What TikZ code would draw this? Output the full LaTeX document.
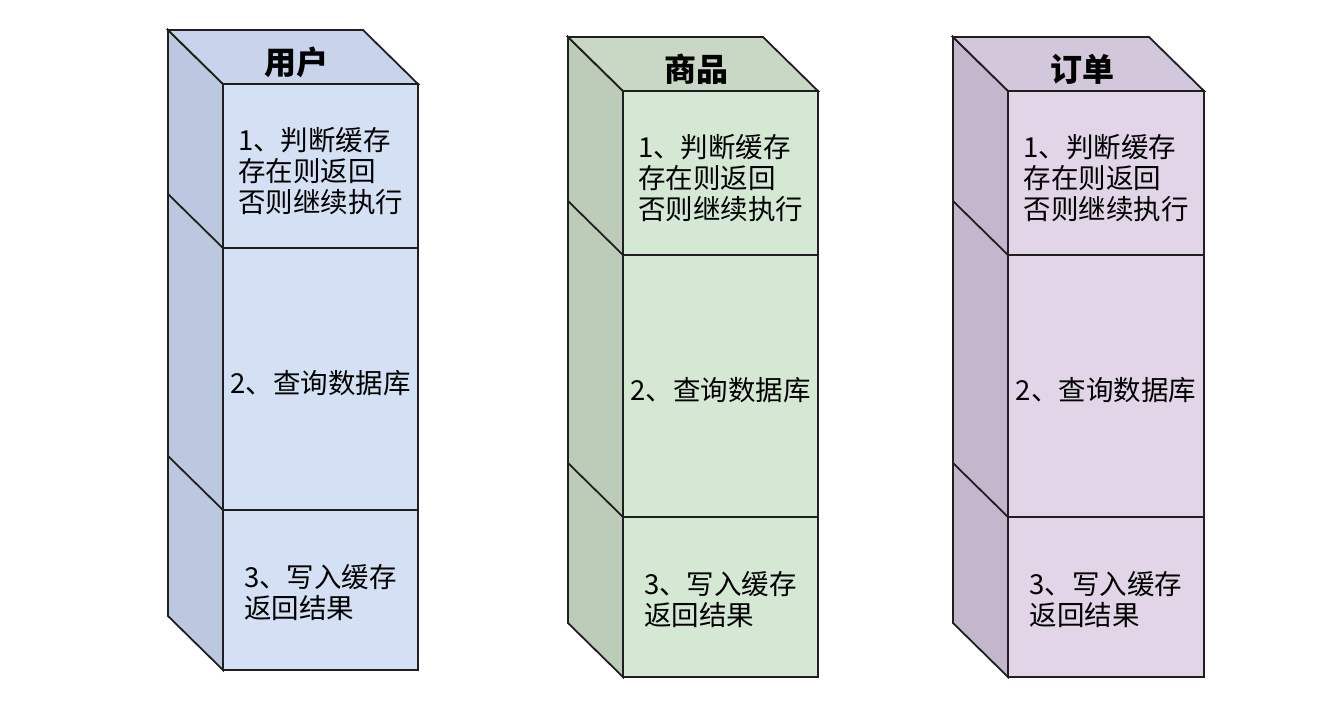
\documentclass[tikz,border=0pt]{standalone}
\usepackage{fontspec}
\setmainfont{Noto Sans CJK SC}
\usetikzlibrary{positioning,calc}

\definecolor{Fblue}{HTML}{D4E1F5}
\definecolor{Tblue}{HTML}{C8D4EC}
\definecolor{Sblue}{HTML}{BCC8E0}
\definecolor{Fgreen}{HTML}{D5E8D4}
\definecolor{Tgreen}{HTML}{C8D8C5}
\definecolor{Sgreen}{HTML}{BCCCB9}
\definecolor{Fpurple}{HTML}{E1D5E7}
\definecolor{Tpurple}{HTML}{D3C7DB}
\definecolor{Spurple}{HTML}{C4B7CD}
\colorlet{edgecol}{black!88}

\tikzset{
  layer/.style={draw=edgecol, line width=1.8pt, fill=F#1, inner sep=0pt,
    outer sep=0pt},
  txt/.style={align=left, inner sep=0pt, font=\fontsize{27.5}{31}\selectfont},
  face/.style={draw=edgecol, line width=1.8pt, fill=#1},
  edge/.style={draw=edgecol, line width=1.8pt},
  title/.style={font=\fontsize{32}{36}\selectfont\bfseries, inner sep=0pt}
}

\begin{document}
\begin{tikzpicture}[x=1pt, y=-1pt]
  \useasboundingbox (0,0) rectangle (1340,704);

  \foreach \n/\x/\y/\w/\c/\t in {u/223/84/195/blue/用户,
                                g/623/91/195/green/商品,
                                d/1008/91/196/purple/订单} {
    % front of the stack
    \node[layer=\c, minimum width=\w pt, minimum height=164pt, anchor=north west]
      (\n1) at (\x,\y) {};
    \node[layer=\c, minimum width=\w pt, minimum height=262pt, below=0pt of \n1]
      (\n2) {};
    \node[layer=\c, minimum width=\w pt, minimum height=160pt, below=0pt of \n2]
      (\n3) {};
    \node[txt] (\n1 text) at ($(\n1.center)+(0,5)$) {1、判断缓存\\存在则返回\\否则继续执行};
    \node[txt] (\n2 text) at ($(\n2.center)+(0,4)$) {2、查询数据库};
    \node[txt] (\n3 text) at ($(\n3.center)+(0,3)$) {3、写入缓存\\返回结果};

    % side and top faces
    \draw[face=S\c] (\n1.north west) -- ++(-55,-54)
      -- ($(\n3.south west)+(-55,-54)$) -- (\n3.south west) -- cycle;
    \draw[edge] (\n1.south west) -- ++(-55,-54);
    \draw[edge] (\n2.south west) -- ++(-55,-54);
    \draw[face=T\c] (\n1.north west) -- ++(-55,-54)
      -- ($(\n1.north east)+(-55,-54)$) -- (\n1.north east) -- cycle;

    \node[title] (\n t) at ($(\n1.north)+(-24,-22)$) {\t};
  }
\end{tikzpicture}
\end{document}
